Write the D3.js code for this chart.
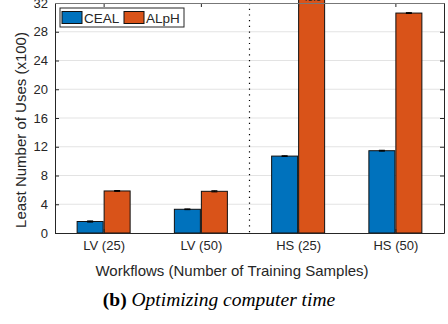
<html>
<head>
<script src="https://d3js.org/d3.v7.min.js"></script>
<style>
  body { margin: 0; background: #fff; }
  text { font-family: "Liberation Sans", Arial, sans-serif; fill: #262626; }
  .caption { font-family: "Liberation Serif", "Times New Roman", serif; font-size: 19.5px; fill: #000; }
</style>
</head>
<body>
<svg id="chart" width="448" height="324"></svg>
<script>
// data
const workflows = ["LV (25)", "LV (50)", "HS (25)", "HS (50)"];
const methods = ["CEAL", "ALpH"];
const cealUses = [1.6, 3.3, 10.7, 11.45];
const alphUses = [5.85, 5.8, 43.5, 30.6];
const cealErr = [0.08, 0.05, 0.05, 0.06];
const alphErr = [0.06, 0.08, 0.1, 0.06];
const yTicks = [0, 4, 8, 12, 16, 20, 24, 28, 32];
const colors = ["#0072BD", "#D95319"];

const plotL = 55, plotR = 444, plotT = 3, plotB = 233;
const svg = d3.select("#chart");

const x = d3.scaleLinear().domain([0.5, 4.5]).range([plotL, plotR]);
const y = d3.scaleLinear().domain([0, 32]).range([plotB, plotT]);
const barW = 26, gap = 1;

// gridlines
svg.append("g").selectAll("line").data(yTicks.slice(1, -1)).join("line")
  .attr("x1", plotL).attr("x2", plotR)
  .attr("y1", d => y(d)).attr("y2", d => y(d))
  .attr("stroke", "#e3e3e3").attr("stroke-width", 1);

// dotted separator
svg.append("line")
  .attr("x1", x(2.5)).attr("x2", x(2.5))
  .attr("y1", plotT).attr("y2", plotB)
  .attr("stroke", "#000").attr("stroke-width", 1.2)
  .attr("stroke-dasharray", "1.2,4.5");

const series = [cealUses, alphUses];
const errs = [cealErr, alphErr];
const bars = svg.append("g");
series.forEach((vals, s) => {
  const off = s === 0 ? -barW - gap / 2 : gap / 2;
  bars.selectAll(".b" + s).data(vals).join("rect")
    .attr("class", "b" + s)
    .attr("x", (d, i) => x(i + 1) + off)
    .attr("y", d => y(Math.min(d, 33)))
    .attr("width", barW)
    .attr("height", d => y(0) - y(Math.min(d, 33)))
    .attr("fill", colors[s])
    .attr("stroke", "#111").attr("stroke-width", 1);
  // error caps
  bars.selectAll(".e" + s).data(vals).join("path")
    .attr("class", "e" + s)
    .attr("d", (d, i) => {
      if (d > 32) return "";
      const cx = x(i + 1) + off + barW / 2;
      const e = errs[s][i];
      return `M${cx - 3},${y(d + e)}H${cx + 3}M${cx},${y(d + e)}V${y(d - e)}M${cx - 3},${y(d - e)}H${cx + 3}`;
    })
    .attr("stroke", "#000").attr("stroke-width", 1).attr("fill", "none");
});

// clipped value label above the over-range bar
svg.append("text")
  .attr("x", x(3) + gap / 2 + barW / 2).attr("y", 1)
  .attr("text-anchor", "middle").attr("font-size", 10)
  .text(alphUses[2].toFixed(1));

// axes box with inward ticks
const yAxisL = d3.axisLeft(y).tickValues(yTicks).tickSizeInner(-4).tickSizeOuter(0).tickPadding(7);
const yAxisR = d3.axisRight(y).tickValues(yTicks).tickSizeInner(-4).tickSizeOuter(0).tickFormat("");
const xAxisB = d3.axisBottom(x).tickValues([1, 2, 3, 4]).tickFormat((d, i) => workflows[i])
  .tickSizeInner(-4).tickSizeOuter(0).tickPadding(8);
const xAxisT = d3.axisTop(x).tickValues([1, 2, 3, 4]).tickSizeInner(-4).tickSizeOuter(0).tickFormat("");

[[yAxisL, `translate(${plotL},0)`], [yAxisR, `translate(${plotR},0)`],
 [xAxisB, `translate(0,${plotB})`], [xAxisT, `translate(0,${plotT})`]].forEach(([ax, tr]) => {
  const g = svg.append("g").attr("transform", tr).call(ax);
  g.selectAll("path, line").attr("stroke", "#262626");
  g.selectAll("text").attr("font-size", 13).attr("fill", "#262626")
    .style("font-family", '"Liberation Sans", Arial, sans-serif');
});
// top border grey
svg.append("line").attr("x1", plotL).attr("x2", plotR).attr("y1", plotT + 0.5).attr("y2", plotT + 0.5)
  .attr("stroke", "#777").attr("stroke-width", 1);

// axis titles
svg.append("text")
  .attr("transform", `translate(26,130) rotate(-90)`)
  .attr("text-anchor", "middle").attr("font-size", 15)
  .text("Least Number of Uses (x100)");
svg.append("text")
  .attr("x", 232).attr("y", 276)
  .attr("text-anchor", "middle").attr("font-size", 15)
  .text("Workflows (Number of Training Samples)");

// legend
const lg = svg.append("g").attr("transform", "translate(60,8)");
lg.append("rect").attr("width", 124).attr("height", 19)
  .attr("fill", "#fff").attr("stroke", "#262626").attr("stroke-width", 1);
const legX = [2, 64];
methods.forEach((m, i) => {
  lg.append("rect").attr("x", legX[i]).attr("y", 3.5).attr("width", 20).attr("height", 12)
    .attr("fill", colors[i]).attr("stroke", "#111");
  lg.append("text").attr("x", legX[i] + 22).attr("y", 14.5).attr("font-size", 13.5)
    .attr("fill", "#000").text(m);
});

// caption
const cap = svg.append("text").attr("class", "caption")
  .attr("x", 219).attr("y", 306).attr("text-anchor", "middle");
cap.append("tspan").attr("font-weight", "bold").text("(b) ");
cap.append("tspan").attr("font-style", "italic").text("Optimizing computer time");
</script>
</body>
</html>
